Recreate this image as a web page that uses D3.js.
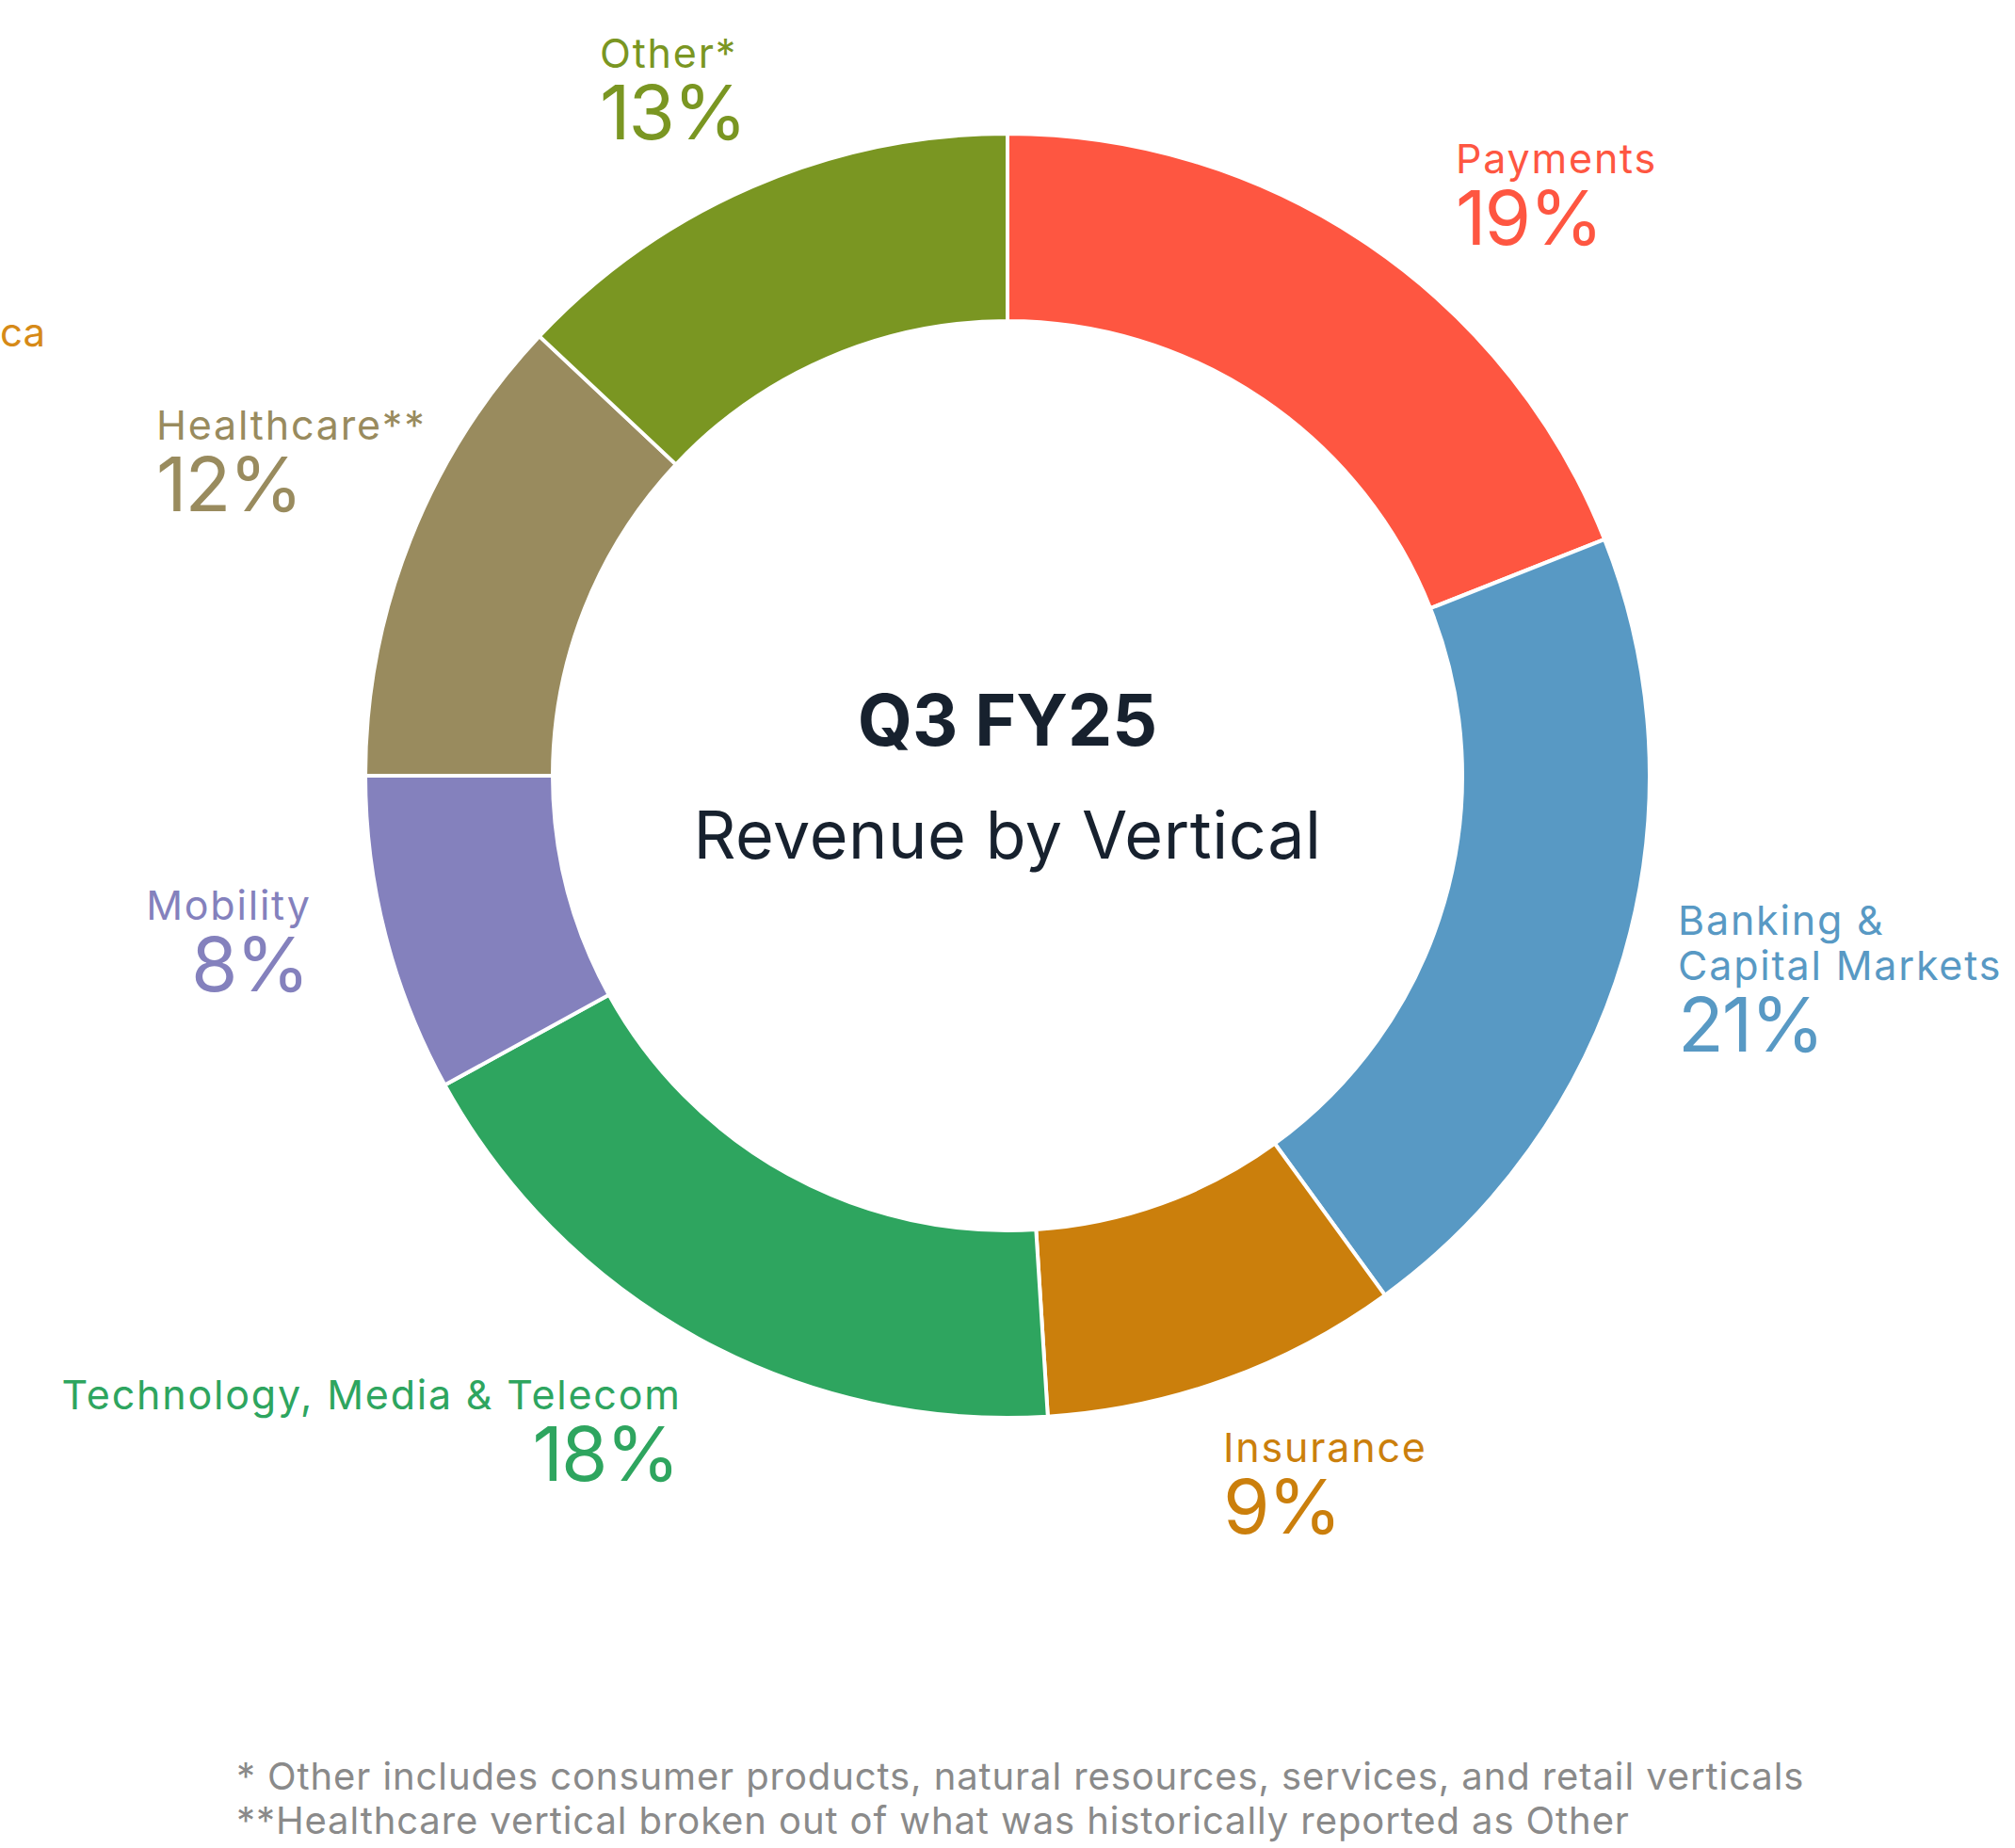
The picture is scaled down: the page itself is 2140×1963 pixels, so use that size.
<!DOCTYPE html>
<html>
<head>
<meta charset="utf-8">
<script src="https://cdn.jsdelivr.net/npm/d3@7"></script>
<style>
  body { margin: 0; background: #fff; }
  text { font-family: Inter, "Open Sans", sans-serif; }
</style>
</head>
<body>
<svg id="chart"></svg>
<script>
// revenue share by vertical, clockwise from 12 o'clock
const verticals = ["Payments", "Banking & Capital Markets", "Insurance",
  "Technology, Media & Telecom", "Mobility", "Healthcare**", "Other*"];
const shares = [19, 21, 9, 18, 8, 12, 13];
const labelLines = [["Payments"], ["Banking &", "Capital Markets"], ["Insurance"],
  ["Technology, Media & Telecom"], ["Mobility"], ["Healthcare**"], ["Other*"]];
const title = "Q3 FY25";
const subtitle = "Revenue by Vertical";
const footnotes = [
  "* Other includes consumer products, natural resources, services, and retail verticals",
  "**Healthcare vertical broken out of what was historically reported as Other"
];
const clippedLabel = "ca";  // leftover from the neighbouring chart, cut at the edge

const W = 2140, H = 1963;
const cx = 1070, cy = 824, rOuter = 682, rInner = 483;

const color = d3.scaleOrdinal()
  .domain(verticals)
  .range(["#fe5641", "#5899c4", "#cb7f0c", "#2ea55f", "#8481bd", "#998b5e", "#7a9622"]);

// hand placed label anchors (x, first baseline, anchor)
const labelPos = {
  "Payments": [1546, 184, "start"],
  "Banking & Capital Markets": [1782, 993, "start"],
  "Insurance": [1299, 1553, "start"],
  "Technology, Media & Telecom": [722, 1497, "end"],
  "Mobility": [329, 977, "end"],
  "Healthcare**": [166, 467, "start"],
  "Other*": [637, 72, "start"]
};

const svg = d3.select("#chart").attr("width", W).attr("height", H);

const pie = d3.pie().sort(null).value(d => d.value);
const arc = d3.arc().innerRadius(rInner).outerRadius(rOuter);
const data = verticals.map((v, i) => ({ name: v, value: shares[i], lines: labelLines[i] }));

const ring = svg.append("g").attr("transform", `translate(${cx},${cy})`);
ring.selectAll("path")
  .data(pie(data))
  .enter()
  .append("path")
  .attr("d", arc)
  .attr("fill", d => color(d.data.name))
  .attr("stroke", "#fff")
  .attr("stroke-width", 4);

// centre title
ring.append("text")
  .attr("text-anchor", "middle")
  .attr("y", 792 - cy)
  .attr("font-size", 75)
  .attr("font-weight", 700)
  .attr("fill", "#17212e")
  .text(title);
ring.append("text")
  .attr("text-anchor", "middle")
  .attr("y", 912 - cy)
  .attr("font-size", 70)
  .attr("letter-spacing", 0.6)
  .attr("fill", "#17212e")
  .text(subtitle);

// slice labels: name then big percentage
const labels = svg.selectAll("g.label")
  .data(data)
  .enter()
  .append("g")
  .attr("class", "label")
  .attr("fill", d => color(d.name))
  .attr("text-anchor", d => labelPos[d.name][2]);

labels.each(function(d) {
  const g = d3.select(this);
  const [x, y] = labelPos[d.name];
  const anchorEnd = labelPos[d.name][2] == "end";
  d.lines.forEach((ln, j) => {
    g.append("text")
      .attr("x", x).attr("y", y + j * 48)
      .attr("font-size", 43)
      .attr("letter-spacing", 1.8)
      .attr("dx", anchorEnd ? 1.8 : 0)
      .text(ln);
  });
  g.append("text")
    .attr("x", x).attr("y", y + (d.lines.length - 1) * 48 + 76)
    .attr("font-size", 80)
    .attr("letter-spacing", -2)
    .attr("dx", anchorEnd ? -2 : 0)
    .text(d.value + "%");
});

svg.append("text")
  .attr("x", 0).attr("y", 368)
  .attr("font-size", 42)
  .attr("fill", "#d68a17")
  .text(clippedLabel);

svg.selectAll("text.note")
  .data(footnotes)
  .enter()
  .append("text")
  .attr("class", "note")
  .attr("x", 251)
  .attr("y", (d, i) => 1901 + i * 47)
  .attr("font-size", 40)
  .attr("letter-spacing", 0.9)
  .attr("fill", "#8a8a8a")
  .text(d => d);
</script>
</body>
</html>
